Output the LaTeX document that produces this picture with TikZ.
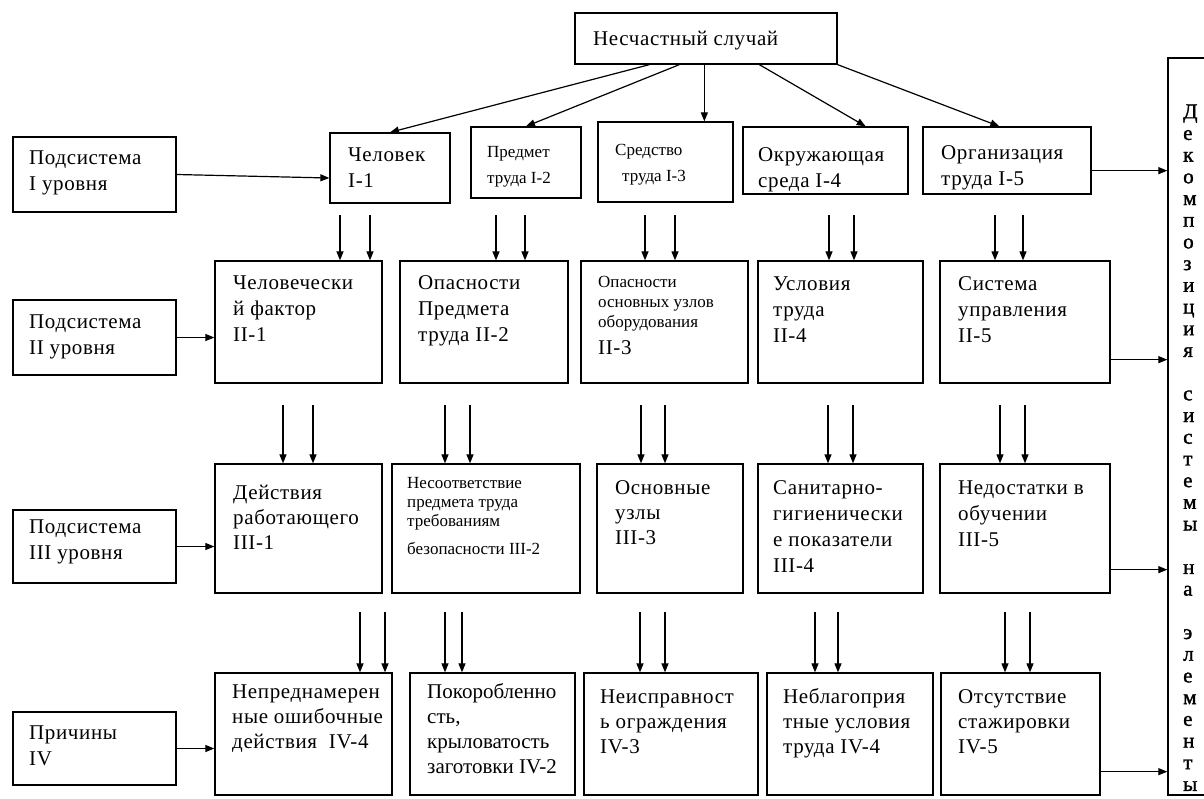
\documentclass[tikz,border=0pt]{standalone}
\usepackage{fontspec}
\setmainfont{Liberation Serif}[LetterSpace=3]
\newfontfamily\smfont{Liberation Serif}
\newfontfamily\rfont{Liberation Serif}[FakeBold=1.5]
\usetikzlibrary{arrows.meta,fit}
\newcommand\fb{\rule{0pt}{15pt}}
\newcommand\fsm{\rule{0pt}{12pt}}
\newcommand\bigf{\rmfamily\fontsize{21}{26}\selectfont}
\begin{document}
\begin{tikzpicture}[x=1pt,y=-1pt,
  box/.style={draw, line width=1.3pt, inner sep=0pt},
  txt/.style={inner sep=0pt, anchor=north west, align=left, font=\fontsize{21}{26}\selectfont},
  stxt/.style={inner sep=0pt, anchor=north west, align=left, font=\smfont\fontsize{17}{26}\selectfont},
  arr/.style={line width=1.2pt, -{Triangle[length=9pt,width=7pt]}}]
\useasboundingbox (0,0) rectangle (1204,798);
\clip (0,0) rectangle (1204,798);
% top
\node[box, fit={(575,13) (837,64)}] (T) {};
\node[txt] (Tt) at (593,30) {\fb Несчастный случай};
% labels
\node[box, fit={(13,137) (176,212)}] (L1) {};
\node[box, fit={(13,300) (176,375)}] (L2) {};
\node[box, fit={(13,510) (176,583)}] (L3) {};
\node[box, fit={(13,712) (176,785)}] (L4) {};
\node[txt] (L1t) at (29,149) {\fb Подсистема\\I уровня};
\node[txt] (L2t) at (29,313) {\fb Подсистема\\II уровня};
\node[txt] (L3t) at (29,518) {\fb Подсистема\\III уровня};
\node[txt] (L4t) at (29,724) {\fb Причины\\IV};
% row I
\node[box, fit={(330,133) (450,203)}] (A1) {};
\node[box, fit={(471,127) (581,198)}] (A2) {};
\node[box, fit={(598,122) (733,202)}] (A3) {};
\node[box, fit={(743,127) (908,194)}] (A4) {};
\node[box, fit={(923,127) (1091,194)}] (A5) {};
\node[txt] (A1t) at (348,146) {\fb Человек\\I-1};
\node[stxt] (A2t) at (487,145) {\fsm Предмет\\труда I-2};
\node[stxt] (A3t) at (615,143) {\fsm Средство\\\hspace*{7pt}труда I-3};
\node[txt] (A4t) at (758,146) {\fb Окружающая\\среда I-4};
\node[txt] (A5t) at (941,144) {\fb Организация\\труда I-5};
% row II
\node[box, fit={(215,261) (382,383)}] (B1) {};
\node[box, fit={(400,261) (568,383)}] (B2) {};
\node[box, fit={(581,261) (748,383)}] (B3) {};
\node[box, fit={(758,261) (923,383)}] (B4) {};
\node[box, fit={(940,261) (1110,383)}] (B5) {};
\node[txt] (B1t) at (233,274) {\fb Человечески\\й фактор\\II-1};
\node[txt] (B2t) at (418,274) {\fb Опасности\\Предмета\\труда II-2};
\node[stxt, font=\smfont\fontsize{17}{20}\selectfont] (B3t) at (598,275) {\fsm Опасности\\основных узлов\\оборудования\\[7pt]{\bigf II-3}};
\node[txt] (B4t) at (773,275) {\fb Условия\\труда\\II-4};
\node[txt] (B5t) at (958,275) {\fb Система\\управления\\II-5};
% row III
\node[box, fit={(215,464) (382,593)}] (C1) {};
\node[box, fit={(392,464) (580,593)}] (C2) {};
\node[box, fit={(597,464) (743,593)}] (C3) {};
\node[box, fit={(758,464) (923,593)}] (C4) {};
\node[box, fit={(940,464) (1110,593)}] (C5) {};
\node[txt, font=\fontsize{21}{25}\selectfont] (C1t) at (233,484) {\fb Действия\\работающего\\III-1};
\node[stxt, font=\smfont\fontsize{17}{19}\selectfont] (C2t) at (407,476) {\fsm Несоответствие\\предмета труда\\требованиям\\[9pt]безопасности III-2};
\node[txt, font=\fontsize{21}{25}\selectfont] (C3t) at (615,479) {\fb Основные\\узлы\\III-3};
\node[txt] (C4t) at (773,479) {\fb Санитарно-\\гигиенически\\е показатели\\III-4};
\node[txt] (C5t) at (958,479) {\fb Недостатки в\\обучении\\III-5};
% row IV
\node[box, fit={(215,673) (392,795)}] (D1) {};
\node[box, fit={(410,673) (575,795)}] (D2) {};
\node[box, fit={(584,673) (758,795)}] (D3) {};
\node[box, fit={(767,673) (933,795)}] (D4) {};
\node[box, fit={(941,673) (1100,795)}] (D5) {};
\node[txt, font=\fontsize{21}{25}\selectfont] (D1t) at (232,683) {\fb Непреднамерен\\ные ошибочные\\действия\ \ IV-4};
\node[txt, font=\smfont\fontsize{21}{25}\selectfont] (D2t) at (427,683) {\fb Покоробленно\\сть,\\крыловатость\\заготовки IV-2};
\node[txt, font=\fontsize{21}{25}\selectfont] (D3t) at (600,688) {\fb Неисправност\\ь ограждения\\IV-3};
\node[txt, font=\fontsize{21}{25}\selectfont] (D4t) at (783,688) {\fb Неблагоприя\\тные условия\\труда IV-4};
\node[txt, font=\fontsize{21}{25}\selectfont] (D5t) at (958,688) {\fb Отсутствие\\стажировки\\IV-5};
% right panel
\node[box, fit={(1168,58) (1220,795)}] (R) {};
\node[inner sep=0pt, anchor=north west, align=left, font=\rfont\fontsize{21}{21.7}\selectfont] (Rt) at (1183,103)
 {\rule{0pt}{15pt}Д\\е\\к\\о\\м\\п\\о\\з\\и\\ц\\и\\я\\[21.7pt]с\\и\\с\\т\\е\\м\\ы\\[21.7pt]н\\а\\[21.7pt]э\\л\\е\\м\\е\\н\\т\\ы};
% arrows from top
\draw[arr] ([xshift=75pt]T.south west) -- (A1.north);
\draw[arr] ([xshift=105pt]T.south west) -- (A2.north);
\draw[arr] ([xshift=130pt]T.south west) -- ([xshift=130pt]T.south west |- A3.north);
\draw[arr] ([xshift=185pt]T.south west) -- ([xshift=-43pt]A4.north east);
\draw[arr] (T.south east) -- ([xshift=77pt]A5.north west);
% label arrows
\draw[arr] (L1.east) -- ([yshift=-10pt]A1.west);
\draw[arr] (L2.east) -- (L2.east -| B1.west);
\draw[arr] (L3.east) -- (L3.east -| C1.west);
\draw[arr] (L4.east) -- (L4.east -| D1.west);
% arrows to right panel
\foreach \n in {A5,B5,C5,D5}
  \draw[arr] ([yshift=24pt]\n.south east) -- ([yshift=24pt]\n.south east -| R.west);
% down arrows
\foreach \x/\n in {340/B1,370/B1,496/B2,525/B2,645/B3,675/B3,829/B4,854/B4,995/B5,1023/B5}{
  \coordinate (s) at (\x,215);
  \draw[arr] (s) -- (s |- \n.north);}
\foreach \x/\n in {283/C1,313/C1,445/C2,470/C2,641/C3,665/C3,828/C4,853/C4,1000/C5,1025/C5}{
  \coordinate (s) at (\x,405);
  \draw[arr] (s) -- (s |- \n.north);}
\foreach \x/\n in {360/D1,385/D1,445/D2,462/D2,640/D3,665/D3,815/D4,838/D4,1005/D5,1030/D5}{
  \coordinate (s) at (\x,612);
  \draw[arr] (s) -- (s |- \n.north);}
\end{tikzpicture}
\end{document}
